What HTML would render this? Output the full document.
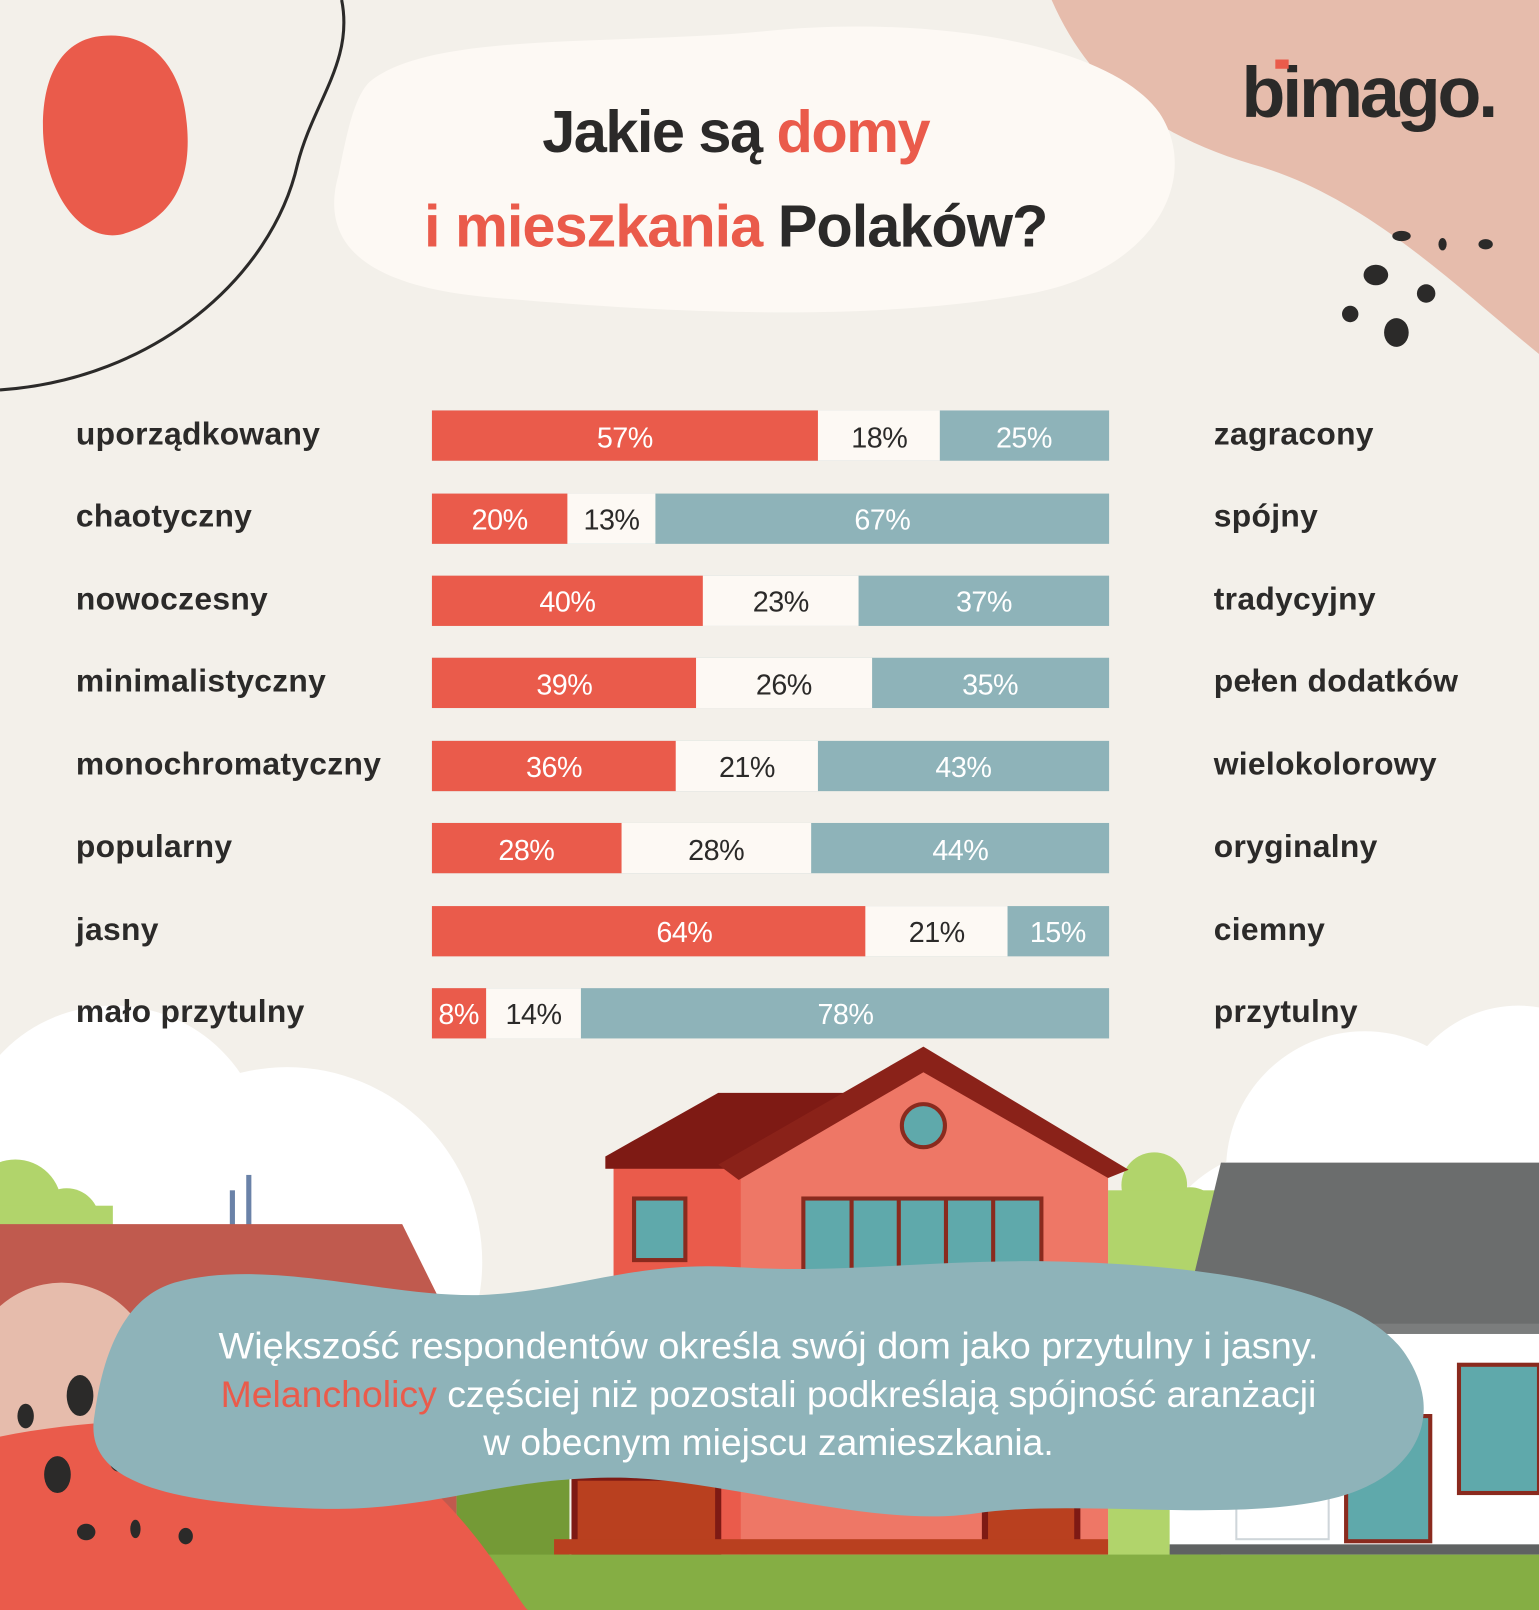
<!DOCTYPE html>
<html><head><meta charset="utf-8"><style>
html,body{margin:0;padding:0;background:#f3f0ea}
svg{display:block}
text{font-family:"Liberation Sans",sans-serif}
</style></head><body>
<svg width="1539" height="1610" viewBox="0 0 1500 1569" preserveAspectRatio="none" xmlns="http://www.w3.org/2000/svg">
<rect width="1500" height="1569" fill="#f3f0ea"/>
<path d="M1025,0 C1060,80 1120,130 1220,160 C1330,190 1420,280 1500,345 V0 Z" fill="#e6bcac"/>
<path d="M100,35 C150,30 178,70 182,120 C188,180 165,215 120,228 C80,238 45,190 42,130 C40,75 60,38 100,35 Z" fill="#ea5b4b"/>
<path d="M333,0 C345,60 305,100 290,160 C265,270 150,370 0,380" fill="none" stroke="#2b2a29" stroke-width="3"/>
<path d="M360,80 C420,30 600,45 750,30 C900,15 1080,40 1130,110 C1170,170 1130,260 1010,285 C850,315 650,305 480,290 C360,280 310,240 330,170 C338,130 345,95 360,80 Z" fill="#fdf9f4"/>
<g fill="#2b2a29">
<ellipse cx="1341" cy="268" rx="12" ry="10"/><ellipse cx="1390" cy="286" rx="9" ry="9"/>
<ellipse cx="1361" cy="324" rx="12" ry="14"/><ellipse cx="1316" cy="306" rx="8" ry="8"/>
<ellipse cx="1366" cy="230" rx="9" ry="5"/><ellipse cx="1406" cy="238" rx="4" ry="6"/><ellipse cx="1448" cy="238" rx="7" ry="5"/>
</g>
<text x="1210" y="114" font-size="70" font-weight="bold" fill="#2b2a29" letter-spacing="-3">bimago.</text>
<rect x="1243" y="58" width="13" height="9" fill="#ea5b4b"/>
<text x="717" y="148" font-size="58" font-weight="bold" text-anchor="middle" fill="#2b2a29" letter-spacing="-1.5">Jakie są <tspan fill="#ea5b4b">domy</tspan></text>
<text x="717" y="240" font-size="58" font-weight="bold" text-anchor="middle" fill="#2b2a29" letter-spacing="-1"><tspan fill="#ea5b4b">i mieszkania</tspan> Polaków?</text>

<g fill="#ffffff">
<circle cx="110" cy="1130" r="150"/><circle cx="280" cy="1230" r="190"/><circle cx="40" cy="1250" r="160"/>
<circle cx="1330" cy="1140" r="135"/><circle cx="1480" cy="1100" r="120"/><circle cx="1250" cy="1250" r="130"/>
</g>
<g fill="#b1d46b">
<circle cx="15" cy="1175" r="45"/><circle cx="65" cy="1190" r="32"/><rect x="0" y="1175" width="110" height="60"/>
<circle cx="1125" cy="1155" r="32"/><circle cx="1160" cy="1185" r="28"/><rect x="1080" y="1160" width="110" height="360"/>
</g>
<rect x="224" y="1160" width="5" height="35" fill="#6a82a8"/><rect x="240" y="1145" width="5" height="50" fill="#6a82a8"/>
<polygon points="0,1193 392,1193 445,1300 445,1520 0,1520" fill="#c05a4e"/>
<rect x="445" y="1380" width="110" height="140" fill="#749a36"/>
<rect x="598" y="1135" width="130" height="380" fill="#ea5b4b"/>
<polygon points="590,1127 700,1065 830,1065 720,1127" fill="#7e1a14"/>
<rect x="590" y="1127" width="130" height="12" fill="#7e1a14"/>
<polygon points="722,1140 900,1040 1080,1140 1080,1515 722,1515" fill="#ee7766"/>
<polygon points="700,1135 900,1020 1100,1140 1080,1148 900,1045 720,1150" fill="#8a2219"/>
<circle cx="900" cy="1097" r="21" fill="#5fa9ab" stroke="#8a2a1e" stroke-width="4"/>
<rect x="618" y="1168" width="50" height="60" fill="#5fa9ab" stroke="#8a2a1e" stroke-width="4"/>
<rect x="783" y="1168" width="232" height="80" fill="#5fa9ab" stroke="#8a2a1e" stroke-width="4"/>
<g stroke="#8a2a1e" stroke-width="4"><line x1="830" y1="1168" x2="830" y2="1248"/><line x1="876" y1="1168" x2="876" y2="1248"/><line x1="922" y1="1168" x2="922" y2="1248"/><line x1="968" y1="1168" x2="968" y2="1248"/></g>
<rect x="560" y="1440" width="140" height="75" fill="#b9401f" stroke="#7e1a14" stroke-width="6"/>
<rect x="960" y="1440" width="90" height="65" fill="#b9401f" stroke="#7e1a14" stroke-width="6"/>
<rect x="540" y="1500" width="540" height="15" fill="#b9401f"/>
<polygon points="1190,1133 1500,1133 1500,1300 1150,1300" fill="#6b6d6d"/>
<rect x="1150" y="1290" width="350" height="10" fill="#7b7d7d"/>
<rect x="1140" y="1300" width="360" height="210" fill="#ffffff"/>
<rect x="1422" y="1330" width="78" height="125" fill="#5fa9ab" stroke="#8a2a1e" stroke-width="4"/>
<rect x="1312" y="1380" width="82" height="122" fill="#5fa9ab" stroke="#8a2a1e" stroke-width="4"/>
<rect x="1205" y="1420" width="85" height="30" fill="#5fa9ab" stroke="#8a2a1e" stroke-width="4"/>
<rect x="1205" y="1460" width="90" height="40" fill="#ffffff" stroke="#cfd6da" stroke-width="2"/>
<rect x="1140" y="1505" width="360" height="10" fill="#5f6262"/>
<rect x="0" y="1515" width="1500" height="54" fill="#85ae44"/>
<circle cx="60" cy="1340" r="90" fill="#e6bcac"/>
<path d="M0,1400 C150,1370 350,1380 430,1460 C480,1510 510,1569 515,1569 H0 Z" fill="#ea5b4b"/>
<g fill="#2b2a29">
<ellipse cx="78" cy="1360" rx="13" ry="20"/><ellipse cx="25" cy="1380" rx="8" ry="12"/>
<ellipse cx="56" cy="1437" rx="13" ry="18"/><ellipse cx="115" cy="1420" rx="9" ry="14"/><ellipse cx="180" cy="1440" rx="8" ry="7"/>
<ellipse cx="84" cy="1493" rx="9" ry="8"/><ellipse cx="132" cy="1490" rx="5" ry="9"/><ellipse cx="181" cy="1497" rx="7" ry="8"/>
</g>
<path d="M170,1250 C260,1225 380,1265 470,1262 C560,1258 620,1228 720,1235 C830,1242 920,1225 1050,1230 C1200,1235 1330,1260 1370,1320 C1410,1380 1380,1440 1300,1460 C1200,1485 1050,1460 950,1475 C850,1490 700,1440 600,1440 C480,1440 420,1475 300,1470 C180,1465 80,1450 92,1380 C100,1320 120,1265 170,1250 Z" fill="#8eb3b9"/>
<g font-size="36" fill="#ffffff">
<text x="213" y="1324" textLength="1072" lengthAdjust="spacingAndGlyphs">Większość respondentów określa swój dom jako przytulny i jasny.</text>
<text x="215" y="1371" textLength="1068" lengthAdjust="spacingAndGlyphs"><tspan fill="#ea5b4b">Melancholicy</tspan> częściej niż pozostali podkreślają spójność aranżacji</text>
<text x="471" y="1418" textLength="556" lengthAdjust="spacingAndGlyphs">w obecnym miejscu zamieszkania.</text>
</g>

<g font-size="31" font-weight="bold" fill="#2b2a29" letter-spacing="0.3">
<text x="74" y="433">uporządkowany</text><text x="1183" y="433">zagracony</text>
<text x="74" y="513">chaotyczny</text><text x="1183" y="513">spójny</text>
<text x="74" y="594">nowoczesny</text><text x="1183" y="594">tradycyjny</text>
<text x="74" y="674">minimalistyczny</text><text x="1183" y="674">pełen dodatków</text>
<text x="74" y="755">monochromatyczny</text><text x="1183" y="755">wielokolorowy</text>
<text x="74" y="835">popularny</text><text x="1183" y="835">oryginalny</text>
<text x="74" y="916">jasny</text><text x="1183" y="916">ciemny</text>
<text x="74" y="996">mało przytulny</text><text x="1183" y="996">przytulny</text>
</g>
<g>
<rect x="421" y="400" width="660" height="49" fill="#8eb3b9"/><rect x="421" y="400" width="495" height="49" fill="#fdf9f4"/><rect x="421" y="400" width="376.2" height="49" fill="#ea5b4b"/>
<rect x="421" y="481" width="660" height="49" fill="#8eb3b9"/><rect x="421" y="481" width="217.8" height="49" fill="#fdf9f4"/><rect x="421" y="481" width="132" height="49" fill="#ea5b4b"/>
<rect x="421" y="561" width="660" height="49" fill="#8eb3b9"/><rect x="421" y="561" width="415.8" height="49" fill="#fdf9f4"/><rect x="421" y="561" width="264" height="49" fill="#ea5b4b"/>
<rect x="421" y="641" width="660" height="49" fill="#8eb3b9"/><rect x="421" y="641" width="429" height="49" fill="#fdf9f4"/><rect x="421" y="641" width="257.4" height="49" fill="#ea5b4b"/>
<rect x="421" y="722" width="660" height="49" fill="#8eb3b9"/><rect x="421" y="722" width="376.2" height="49" fill="#fdf9f4"/><rect x="421" y="722" width="237.6" height="49" fill="#ea5b4b"/>
<rect x="421" y="802" width="660" height="49" fill="#8eb3b9"/><rect x="421" y="802" width="369.6" height="49" fill="#fdf9f4"/><rect x="421" y="802" width="184.8" height="49" fill="#ea5b4b"/>
<rect x="421" y="883" width="660" height="49" fill="#8eb3b9"/><rect x="421" y="883" width="561" height="49" fill="#fdf9f4"/><rect x="421" y="883" width="422.4" height="49" fill="#ea5b4b"/>
<rect x="421" y="963" width="660" height="49" fill="#8eb3b9"/><rect x="421" y="963" width="145.2" height="49" fill="#fdf9f4"/><rect x="421" y="963" width="52.8" height="49" fill="#ea5b4b"/>
</g>
<g font-size="28" text-anchor="middle" letter-spacing="-0.5">
<g fill="#ffffff">
<text x="609" y="436">57%</text><text x="998" y="436">25%</text>
<text x="487" y="516">20%</text><text x="860" y="516">67%</text>
<text x="553" y="596">40%</text><text x="959" y="596">37%</text>
<text x="550" y="677">39%</text><text x="965" y="677">35%</text>
<text x="540" y="757">36%</text><text x="939" y="757">43%</text>
<text x="513" y="838">28%</text><text x="936" y="838">44%</text>
<text x="667" y="918">64%</text><text x="1031" y="918">15%</text>
<text x="447" y="998">8%</text><text x="824" y="998">78%</text>
</g>
<g fill="#2b2a29">
<text x="857" y="436">18%</text><text x="596" y="516">13%</text><text x="761" y="596">23%</text>
<text x="764" y="677">26%</text><text x="728" y="757">21%</text><text x="698" y="838">28%</text>
<text x="913" y="918">21%</text><text x="520" y="998">14%</text>
</g>
</g>
</svg>
</body></html>
